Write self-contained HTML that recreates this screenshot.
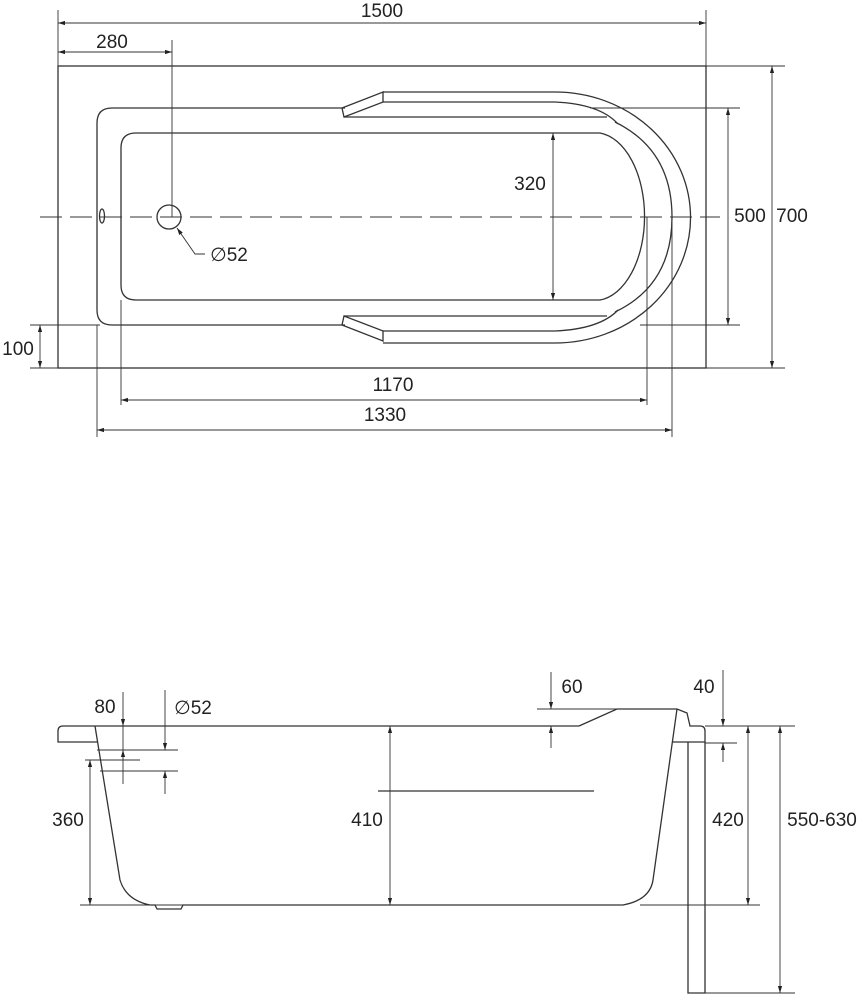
<!DOCTYPE html>
<html><head><style>html,body{margin:0;padding:0;background:#fff;}svg{display:block}text{font-family:"Liberation Sans",sans-serif;font-size:19px;fill:#222}</style></head>
<body>
<svg width="864" height="1000" viewBox="0 0 864 1000" xmlns="http://www.w3.org/2000/svg">
<defs>
<marker id="a" viewBox="0 0 10 10" refX="10" refY="5" markerWidth="10" markerHeight="7" orient="auto-start-reverse" markerUnits="userSpaceOnUse"><path d="M0,2 L10,5 L0,8 z" fill="#222"/></marker>
</defs>
<g fill="none" stroke="#333" stroke-width="1.3">
<rect x="58" y="66" width="648" height="302"/>
<path d="M112,108 H345 M112,108 Q97,108 97,123 V310 Q97,325 112,325 H345"/>
<path d="M136,133 H600 A50,84 0 0 1 600,300 H136 Q121,300 121,285 V148 Q121,133 136,133 Z"/>
<path d="M342,108 L383,92 L383,102 L344,117 Z"/>
<path d="M383,92 H555 A135,125 0 0 1 555,343 H383"/>
<path d="M383,102 H555 Q600,104 618,124"/>
<path d="M344,117 H607"/>
<path d="M342,325 L383,341 L383,331 L344,316 Z"/>
<path d="M383,331 H555 Q600,329 618,310"/>
<path d="M344,316 H607"/>
<path d="M615,122 Q672,150 672,217 Q672,285 615,312"/>
<ellipse cx="102" cy="216" rx="2.5" ry="7"/>
<circle cx="169" cy="217" r="12"/>
</g>
<g fill="none" stroke="#333" stroke-width="0.9">
<path d="M40,217 H720" stroke-dasharray="22,8"/>
<path d="M58,10 V66 M706,10 V66 M172,40 V217 M160,217 H178"/>
<path d="M706,66 H785 M706,368 H785 M590,108 H740 M640,325 H740 M30,325 H100 M30,368 H58"/>
<path d="M121,300 V405 M647,217 V405 M97,325 V437 M672,217 V437"/>
<path d="M58,23 H706" marker-start="url(#a)" marker-end="url(#a)"/>
<path d="M58,52 H172" marker-start="url(#a)" marker-end="url(#a)"/>
<path d="M772,66 V368" marker-start="url(#a)" marker-end="url(#a)"/>
<path d="M728,108 V325" marker-start="url(#a)" marker-end="url(#a)"/>
<path d="M40,325 V368" marker-start="url(#a)" marker-end="url(#a)"/>
<path d="M553,133 V300" marker-start="url(#a)" marker-end="url(#a)"/>
<path d="M121,400 H647" marker-start="url(#a)" marker-end="url(#a)"/>
<path d="M97,430 H672" marker-start="url(#a)" marker-end="url(#a)"/>
<path d="M205,254 H195 L177,228" marker-end="url(#a)"/>
</g>
<g text-anchor="middle">
<text x="382" y="17">1500</text>
<text x="112" y="48">280</text>
<text x="530" y="190">320</text>
<text x="750" y="222">500</text>
<text x="792" y="222">700</text>
<text x="18" y="355">100</text>
<text x="393" y="391">1170</text>
<text x="385" y="421">1330</text>
<text x="229" y="261">∅52</text>
</g>
<g fill="none" stroke="#333" stroke-width="1.3">
<path d="M95,726 H579 M579,726 L617,709 H677 L687,713 L690,726 H700 Q705,726 705,731 V742 H672"/>
<path d="M95,726 H63 Q58,726 58,731 V742 H97"/>
<path d="M95,726 L120,880 Q126,900 150,905 H155 L157,909 H181 L183,905 H623 Q650,900 653,880 L677,709"/>
<path d="M688,742 V993 H705 V742"/>
<path d="M378,791 H594"/>
</g>
<g fill="none" stroke="#333" stroke-width="0.9">
<path d="M97,750 H178 M85,760 H140 M100,771 H178 M537,709 H620 M705,743 H737 M705,726 H795 M80,905 H600 M640,905 H760 M705,993 H795"/>
<path d="M123,692 V726" marker-end="url(#a)"/><path d="M123,784 V750" marker-end="url(#a)"/>
<path d="M123,726 V750"/>
<path d="M165,690 V750" marker-end="url(#a)"/><path d="M165,794 V771" marker-end="url(#a)"/>
<path d="M90,760 V905" marker-start="url(#a)" marker-end="url(#a)"/>
<path d="M390,726 V905" marker-start="url(#a)" marker-end="url(#a)"/>
<path d="M551,672 V709" marker-end="url(#a)"/><path d="M551,748 V726" marker-end="url(#a)"/>
<path d="M723,670 V726" marker-end="url(#a)"/><path d="M723,762 V743" marker-end="url(#a)"/>
<path d="M748,726 V905" marker-start="url(#a)" marker-end="url(#a)"/>
<path d="M780,726 V993" marker-start="url(#a)" marker-end="url(#a)"/>
</g>
<g text-anchor="middle">
<text x="105" y="713">80</text>
<text x="193" y="714">∅52</text>
<text x="68" y="826">360</text>
<text x="367" y="826">410</text>
<text x="572" y="693">60</text>
<text x="704" y="693">40</text>
<text x="728" y="826">420</text>
<text x="822" y="826">550-630</text>
</g>
</svg>
</body></html>
